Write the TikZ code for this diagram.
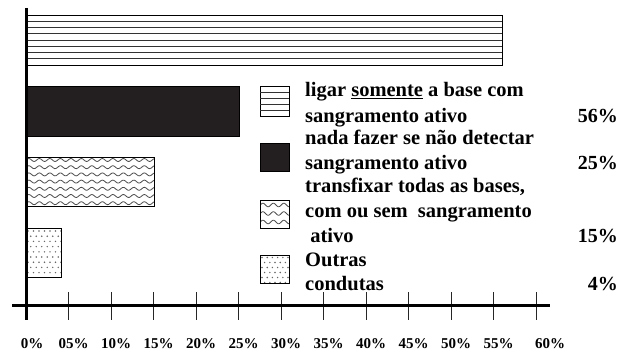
\documentclass[tikz,border=0pt]{standalone}
\usepackage{fontspec}
\setmainfont{Liberation Serif}
\begin{document}
\begin{tikzpicture}[x=1pt,y=-1pt,
  barbox/.style={draw=black,line width=0.8pt},
  hline/.style={line width=0.7pt,black!80},
  wave/.style={line width=0.8pt,black!70},
  dotfill/.style={fill=black!60},
  legtext/.style={anchor=base west,inner sep=0pt,font=\fontsize{20.5}{24}\selectfont\bfseries},
  pcttext/.style={anchor=base east,inner sep=0pt,font=\fontsize{20}{24}\selectfont\bfseries},
  ticklab/.style={anchor=base,inner sep=0pt,font=\fontsize{15}{18}\selectfont\bfseries},
  tickline/.style={line width=0.7pt,black!85}]
\useasboundingbox (0,0) rectangle (629,350);
\definecolor{barblack}{HTML}{231F20}
% ---- top bar: horizontal lines
\draw[barbox,fill=white] (26,15) rectangle (502,65);
\foreach \k in {1,...,7} {\draw[hline] (26,{15+\k*6.25}) -- (502,{15+\k*6.25});}
% ---- black bar
\draw[barbox,fill=barblack] (26,86) rectangle (239,136);
% ---- wave bar
\begin{scope}
\clip (26,157) rectangle (154,206);
\foreach \k in {0,...,6} {
  \draw[wave] plot[smooth,domain=20:160,samples=110] (\x,{160+\k*7.2+1.5*sin(\x/10.5*360)});
}
\end{scope}
\draw[barbox] (26,157) rectangle (154,206);
% ---- dot bar
\begin{scope}
\clip (26,228) rectangle (61,277);
\foreach \r in {0,...,9} {
  \foreach \c in {0,...,7} {
    \fill[dotfill] ({28+\c*5.5+mod(\r,2)*2.75},{231+\r*5.2}) circle (0.8);
  }
}
\end{scope}
\draw[barbox] (26,228) rectangle (61,277);
% ---- legend boxes
\draw[barbox,fill=white] (260,86) rectangle (289,116);
\foreach \k in {1,...,4} {\draw[hline] (260,{86+\k*6}) -- (289,{86+\k*6});}
\draw[barbox,fill=barblack] (260,143) rectangle (289,171);
\begin{scope}
\clip (260,200) rectangle (289,228);
\foreach \k in {0,...,2} {
  \draw[wave] plot[smooth,domain=255:295,samples=40] (\x,{205+\k*8.5+1.8*sin((\x-255)/10.5*360)});
}
\end{scope}
\draw[barbox] (260,200) rectangle (289,228);
\begin{scope}
\clip (260,255) rectangle (289,283);
\foreach \r in {0,...,5} {
  \foreach \c in {0,...,6} {
    \fill[dotfill] ({262+\c*5.2+mod(\r,2)*2.6},{257.5+\r*5.0}) circle (0.8);
  }
}
\end{scope}
\draw[barbox] (260,255) rectangle (289,283);
% ---- legend text
\node[legtext] (l1) at (305,97) {ligar \underline{somente} a base com};
\node[legtext] (l2) at (305,122.5) {sangramento ativo};
\node[legtext] (l3) at (305,145) {nada fazer se não detectar};
\node[legtext] (l4) at (305,169.5) {sangramento ativo};
\node[legtext] (l5) at (305,192.5) {transfixar todas as bases,};
\node[legtext] (l6) at (305,217.5) {com ou sem\ \ sangramento};
\node[legtext] (l7) at (305,242) {\ ativo};
\node[legtext] (l8) at (305,266) {Outras};
\node[legtext] (l9) at (305,290) {condutas};
\node[pcttext] (p1) at (618,122.5) {56\%};
\node[pcttext] (p2) at (618,169.5) {25\%};
\node[pcttext] (p3) at (618,242) {15\%};
\node[pcttext] (p4) at (618,290) {4\%};
% ---- axes
\coordinate (ytop) at (26,8);
\coordinate (ybot) at (26,320);
\coordinate (xl) at (12,305);
\coordinate (xr) at (550,305);
\foreach \k in {1,...,12} {
  \draw[tickline] ({26+\k*42.5},292) -- ({26+\k*42.5},320);
}
\draw[line width=3pt] (xl) -- (xr);
\draw[line width=3pt] (ytop) -- (ybot);
% ---- tick labels
\node[ticklab] (t0) at (32,348) {0\%};
\foreach \k/\lab in {1/05,2/10,3/15,4/20,5/25,6/30,7/35,8/40,9/45,10/50,11/55} {
  \node[ticklab] (t\k) at ({31+\k*42.5},348) {\lab\%};
}
\node[ticklab] (t12) at (550,348) {60\%};
\end{tikzpicture}
\end{document}
